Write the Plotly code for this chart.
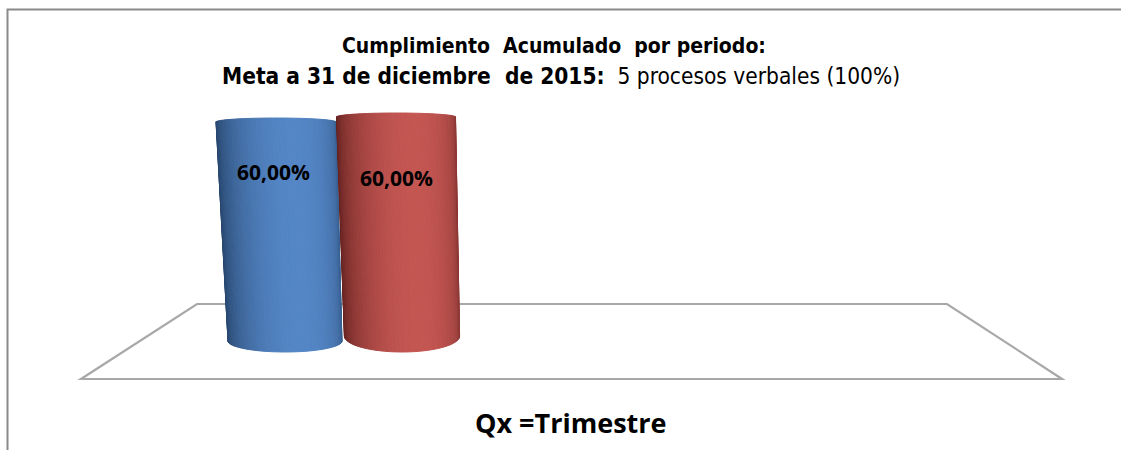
import numpy as np
import plotly.graph_objects as go

# ---------------- data ----------------
periodos = ["Q1"]
series = ["Cumplimiento 1", "Cumplimiento 2"]
valores = [60.0, 60.0]            # % acumulado
titulo_1 = "Cumplimiento\u00a0 Acumulado\u00a0 por periodo:"
titulo_2_b = "Meta a 31 de diciembre\u00a0 de 2015:"
titulo_2_n = "\u00a0\u00a05 procesos verbales (100%)"
eje_x = "Qx =Trimestre"

# ---------------- styling / geometry ----------------
W, H = 1121, 450
PX_X, X0_PX = 240.0, 336.0        # px per x unit, pixel of x=0
PX_Y, Y0_PX = 3.65, 339.0         # px per %, pixel of y=0
xr = [-X0_PX / PX_X, (W - X0_PX) / PX_X]
yr = [-(H - Y0_PX) / PX_Y, Y0_PX / PX_Y]

offs = [-0.25, 0.25]              # top centre offset of each series
shear = [0.0375, 0.025]           # bottom centre shift (perspective)
half_top = [0.25, 0.248]
half_bot = [0.2375, 0.24]
et_px = [4, 4]
eb_px = [11, 16]
yshift_px = [-2, 3]
label_drop = [50, 61]
dark = [(36, 66, 104), (96, 32, 30)]
light = [(84, 134, 198), (196, 86, 82)]

def lerp(a, b, t):
    return "rgb(%d,%d,%d)" % tuple(int(round(a[i] + (b[i] - a[i]) * t)) for i in range(3))

fig = go.Figure()
N = 56
th = np.linspace(-np.pi / 2, np.pi / 2, N + 1)
uu = np.sin(th)
phi = 0.3
for i, (name, v) in enumerate(zip(series, valores)):
    ct = offs[i]
    cb = offs[i] + shear[i]
    s = yshift_px[i] / PX_Y
    et = et_px[i] / PX_Y
    eb = eb_px[i] / PX_Y
    for j in range(N):
        u0, u1 = uu[j], uu[j + 1]
        tm = 0.5 * (th[j] + th[j + 1])
        f = np.cos(tm - phi)
        t = np.clip((f + 0.3) / 1.3, 0, 1) ** 1.1
        col = lerp(dark[i], light[i], t)
        xs = [ct + u0 * half_top[i], ct + u1 * half_top[i],
              cb + u1 * half_bot[i], cb + u0 * half_bot[i], ct + u0 * half_top[i]]
        ys = [v + s + et * np.sqrt(max(0, 1 - u0 ** 2)), v + s + et * np.sqrt(max(0, 1 - u1 ** 2)),
              s - eb * np.sqrt(max(0, 1 - u1 ** 2)), s - eb * np.sqrt(max(0, 1 - u0 ** 2)),
              v + s + et * np.sqrt(max(0, 1 - u0 ** 2))]
        fig.add_trace(go.Scatter(x=xs, y=ys, mode="lines", fill="toself", fillcolor=col,
                                 line=dict(color=col, width=1), hoverinfo="skip",
                                 showlegend=False, name=name))
    lab = ("%.2f" % v).replace(".", ",") + "%"
    fig.add_annotation(x=ct - 0.01 * (1 - i), y=v + s, yshift=-label_drop[i], text="<b>" + lab + "</b>",
                       showarrow=False, font=dict(family="Open Sans", size=21, color="black"),
                       xanchor="center", yanchor="middle")

def px(xp, yp):
    return xp / W, 1 - yp / H

# floor
fl = [px(197, 304), px(947, 304), px(1062, 379), px(81, 379)]
path = "M %f %f L %f %f L %f %f L %f %f Z" % (fl[0] + fl[1] + fl[2] + fl[3])
fig.add_shape(type="path", path=path, xref="paper", yref="paper", layer="below",
              line=dict(color="#a8a8a8", width=2.2), fillcolor="white")
# chart border
fig.add_shape(type="rect", xref="paper", yref="paper", x0=7.5 / W, y0=-0.05, x1=1.05, y1=1 - 9.5 / H,
              line=dict(color="#8a8a8a", width=2), layer="below")

tf = "DejaVu Sans Condensed"
fig.add_annotation(xref="paper", yref="paper", x=554 / W, y=1 - 46 / H, showarrow=False,
                   text="<b>" + titulo_1 + "</b>", font=dict(family=tf, size=21, color="black"),
                   xanchor="center", yanchor="middle")
fig.add_annotation(xref="paper", yref="paper", x=561 / W, y=1 - 76 / H, showarrow=False,
                   text="<b>" + titulo_2_b + "</b>" + titulo_2_n, font=dict(family=tf, size=22.5, color="black"),
                   xanchor="center", yanchor="middle")
fig.add_annotation(xref="paper", yref="paper", x=571 / W, y=1 - 422 / H, showarrow=False,
                   text="<b>" + eje_x + "</b>", font=dict(family="Open Sans", size=27, color="black"),
                   xanchor="center", yanchor="middle")

fig.update_layout(width=W, height=H, margin=dict(l=0, r=0, t=0, b=0),
                  paper_bgcolor="white", plot_bgcolor="white", showlegend=False,
                  xaxis=dict(range=xr, visible=False, fixedrange=True),
                  yaxis=dict(range=yr, visible=False, fixedrange=True))
fig.write_html("out.html", config={"displayModeBar": False},
               post_script="document.body.style.margin='0';")
